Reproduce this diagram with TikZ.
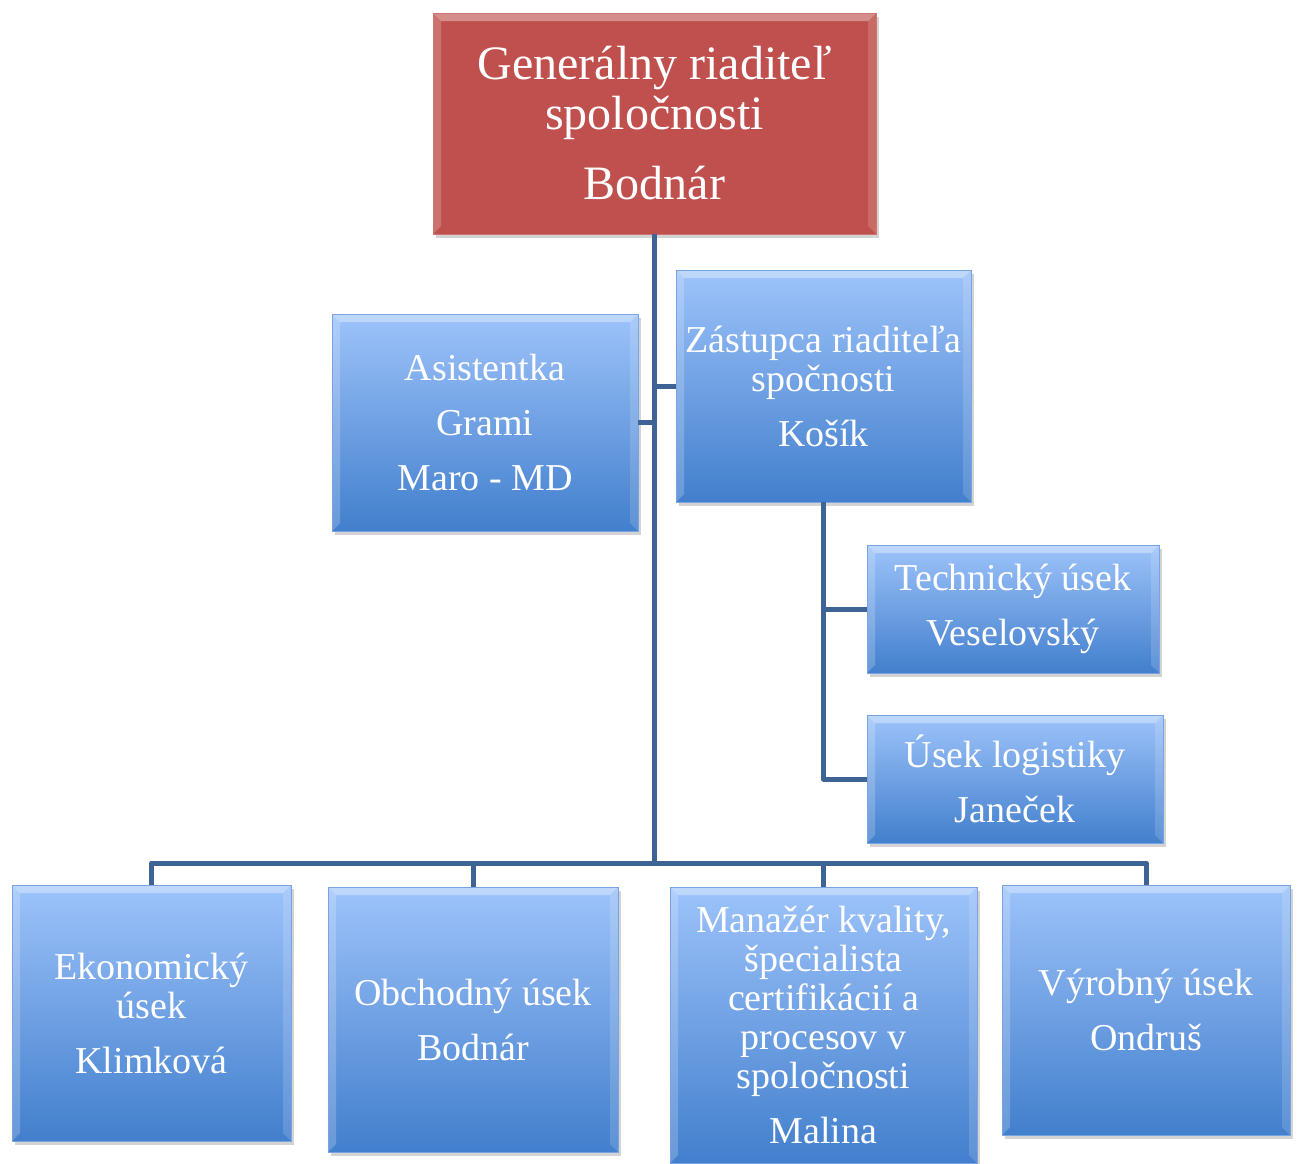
\documentclass[tikz,border=0pt]{standalone}
\usepackage{fontspec}
\setmainfont{Liberation Serif}
\usetikzlibrary{positioning,shadows,calc}

\definecolor{ceored}{RGB}{192,80,77}
\definecolor{boxtop}{RGB}{157,195,250}
\definecolor{boxbot}{RGB}{66,127,205}
\definecolor{boxedge}{RGB}{120,165,225}
\definecolor{linkblue}{RGB}{62,100,150}

\begin{document}
\begin{tikzpicture}
[x=1pt,y=-1pt,
bevel/.style={path picture={
  \fill[white,opacity=.35] (path picture bounding box.north west)
    -- (path picture bounding box.north east)
    -- ($(path picture bounding box.north east)+(-8,8)$)
    -- ($(path picture bounding box.north west)+(8,8)$) -- cycle;
  \fill[white,opacity=.2] (path picture bounding box.north west)
    -- (path picture bounding box.south west)
    -- ($(path picture bounding box.south west)+(8,-8)$)
    -- ($(path picture bounding box.north west)+(8,8)$) -- cycle;
  \fill[white,opacity=.15] (path picture bounding box.north east)
    -- (path picture bounding box.south east)
    -- ($(path picture bounding box.south east)+(-8,-8)$)
    -- ($(path picture bounding box.north east)+(-8,8)$) -- cycle;}},
%
ceobox/.style={rectangle,fill=ceored,draw=ceored!80!white,line width=.6pt,
  text=white,align=center,inner sep=2pt,bevel,
  font=\fontsize{48}{50}\selectfont,
  drop shadow={opacity=.35,shadow xshift=3pt,shadow yshift=-4pt}},
unitbox/.style={rectangle,top color=boxtop,bottom color=boxbot,draw=boxedge,
  line width=.6pt,text=white,align=center,inner sep=2pt,bevel,
  font=\fontsize{38}{39}\selectfont,
  drop shadow={opacity=.35,shadow xshift=3pt,shadow yshift=-4pt}},
%
conn/.style={draw=linkblue,line width=5pt,line join=round}]
%
\useasboundingbox (0,0) rectangle (1298,1163);
%
%% top of the tree
\node (ceo) [ceobox,minimum width=443pt,minimum height=221pt] at (654.5,123.5)
  {Generálny riaditeľ\\spoločnosti\\[20pt]Bodnár};
\node (asist) [unitbox,minimum width=306pt,minimum height=217pt] at (485,422.5)
  {Asistentka\\[16pt]Grami\\[16pt]Maro - MD};
\node (zast) [unitbox,minimum width=295pt,minimum height=232pt] at (823.5,386)
  {Zástupca riaditeľa\\spočnosti\\[16pt]Košík};
%
%% under the deputy
\node (tech) [unitbox,minimum width=292pt,minimum height=128pt] at (1013,609)
  {Technický úsek\\[16pt]Veselovský};
\node (logist) [unitbox,minimum width=296pt,minimum height=128pt] at (1015,779)
  {Úsek logistiky\\[16pt]Janeček};
%
%% bottom row
\node (ekon) [unitbox,minimum width=279pt,minimum height=256pt] at (151.5,1013)
  {Ekonomický\\úsek\\[16pt]Klimková};
\node (obch) [unitbox,minimum width=290pt,minimum height=265pt] at (473,1019.5)
  {Obchodný úsek\\[16pt]Bodnár};
\node (manaz) [unitbox,minimum width=307pt,minimum height=276pt] at (823.5,1025)
  {Manažér kvality,\\špecialista\\certifikácií a\\procesov v\\spoločnosti\\[16pt]Malina};
\node (vyrob) [unitbox,minimum width=288pt,minimum height=250pt] at (1146,1010)
  {Výrobný úsek\\[16pt]Ondruš};
%
\coordinate (bus) at (654.5,863);
%
\draw[conn] (ceo.south) -- (bus);
\draw[conn] (asist.east) -- (asist.east -| bus);
\draw[conn] (zast.west) -- (zast.west -| bus);
%
\draw[conn] (zast.south) |- (tech.west);
\draw[conn] (zast.south) |- (logist.west);
%
\draw[conn] (ekon.north) |- (bus);
\draw[conn] (obch.north) |- (bus);
\draw[conn] (manaz.north) |- (bus);
\draw[conn] (vyrob.north) |- (bus);
\end{tikzpicture}
\end{document}
